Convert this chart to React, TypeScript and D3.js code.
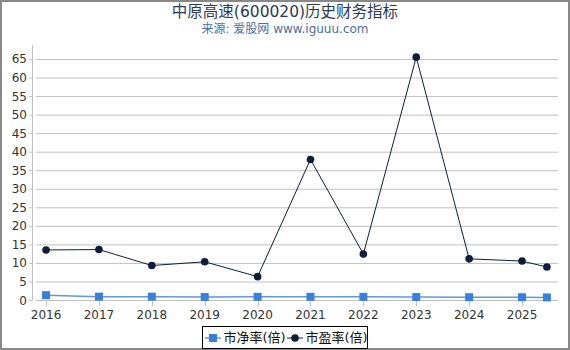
import React from "react";
import * as d3 from "d3";

const years = [2016, 2017, 2018, 2019, 2020, 2021, 2022, 2023, 2024, 2025, 2025.47];
const tickYears = [2016, 2017, 2018, 2019, 2020, 2021, 2022, 2023, 2024, 2025];
const pbValues = [1.3, 0.9, 0.9, 0.8, 0.85, 0.85, 0.85, 0.8, 0.75, 0.75, 0.7];
const peValues = [13.5, 13.6, 9.3, 10.3, 6.3, 37.9, 12.4, 65.5, 11.1, 10.5, 8.9];
const yTicks = [0, 5, 10, 15, 20, 25, 30, 35, 40, 45, 50, 55, 60, 65];
const seriesNames = ["市净率(倍)", "市盈率(倍)"];
const title = "中原高速(600020)历史财务指标";
const subtitle = "来源: 爱股网 www.iguuu.com";

const W = 570;
const H = 350;
const FONT = "'DejaVu Sans', 'Noto Sans CJK SC', sans-serif";
const PB_COLOR = "#3a80d8";
const PB_LINE = "#5d9ae2";
const PE_COLOR = "#0e1d38";

export default function App() {
  const x = d3.scaleLinear().domain([2015.81, 2025.68]).range([36, 558]);
  const y = d3.scaleLinear().domain([0, 68.77]).range([300, 45]);
  const line = d3
    .line<number>()
    .x((_, i) => x(years[i]))
    .y((v) => y(v));

  return (
    <svg
      width={W}
      height={H}
      style={{ position: "absolute", left: 0, top: 0, fontFamily: FONT }}
    >
      <rect x={0} y={0} width={W} height={H} fill="#fff" />
      <rect x={1} y={1} width={W - 2} height={H - 2} fill="none" stroke="#888" strokeWidth={2} />
      <text x={285} y={17} textAnchor="middle" fontSize={15.5} fill="#2b3a55">
        {title}
      </text>
      <text x={285} y={33} textAnchor="middle" fontSize={12} fill="#4d6e9e">
        {subtitle}
      </text>

      {yTicks.filter((t) => t > 0).map((t) => (
        <line key={"g" + t} x1={36} x2={558} y1={y(t) + 0.5} y2={y(t) + 0.5} stroke="#c0c0c0" strokeWidth={1} />
      ))}
      <line x1={36} x2={558} y1={300.5} y2={300.5} stroke="#c0c0c0" strokeWidth={1} />
      <line x1={32.5} x2={32.5} y1={45} y2={300} stroke="#c0c0c0" strokeWidth={1} />
      {yTicks.map((t) => (
        <g key={"yt" + t}>
          <line x1={29} x2={32.5} y1={y(t) + 0.5} y2={y(t) + 0.5} stroke="#c0c0c0" />
          <text x={27} y={y(t) + 4.5} textAnchor="end" fontSize={12} fill="#333">
            {t}
          </text>
        </g>
      ))}
      {tickYears.map((t) => (
        <g key={"xt" + t}>
          <line x1={Math.round(x(t)) + 0.5} x2={Math.round(x(t)) + 0.5} y1={301} y2={306} stroke="#c0c0c0" />
          <text x={x(t)} y={319} textAnchor="middle" fontSize={12} fill="#333">
            {t}
          </text>
        </g>
      ))}

      <path d={line(pbValues) || ""} fill="none" stroke={PB_LINE} strokeWidth={1.5} />
      {pbValues.map((v, i) => (
        <rect key={"pb" + i} x={x(years[i]) - 4} y={y(v) - 4} width={8} height={8} fill={PB_COLOR} />
      ))}
      <path d={line(peValues) || ""} fill="none" stroke={PE_COLOR} strokeWidth={1} />
      {peValues.map((v, i) => (
        <circle key={"pe" + i} cx={x(years[i])} cy={y(v)} r={3.8} fill={PE_COLOR} />
      ))}

      <rect x={202.5} y={326.5} width={165} height={22} fill="#fff" stroke="#000" strokeWidth={1} />
      <line x1={205} x2={221} y1={338} y2={338} stroke={PB_LINE} strokeWidth={1.5} />
      <rect x={209} y={334} width={8} height={8} fill={PB_COLOR} />
      <text x={223.5} y={342} fontSize={13} fill="#111">
        {seriesNames[0]}
      </text>
      <line x1={287} x2={303} y1={338} y2={338} stroke={PE_COLOR} strokeWidth={1} />
      <circle cx={295} cy={338} r={3.8} fill={PE_COLOR} />
      <text x={305.5} y={342} fontSize={13} fill="#111">
        {seriesNames[1]}
      </text>
    </svg>
  );
}
